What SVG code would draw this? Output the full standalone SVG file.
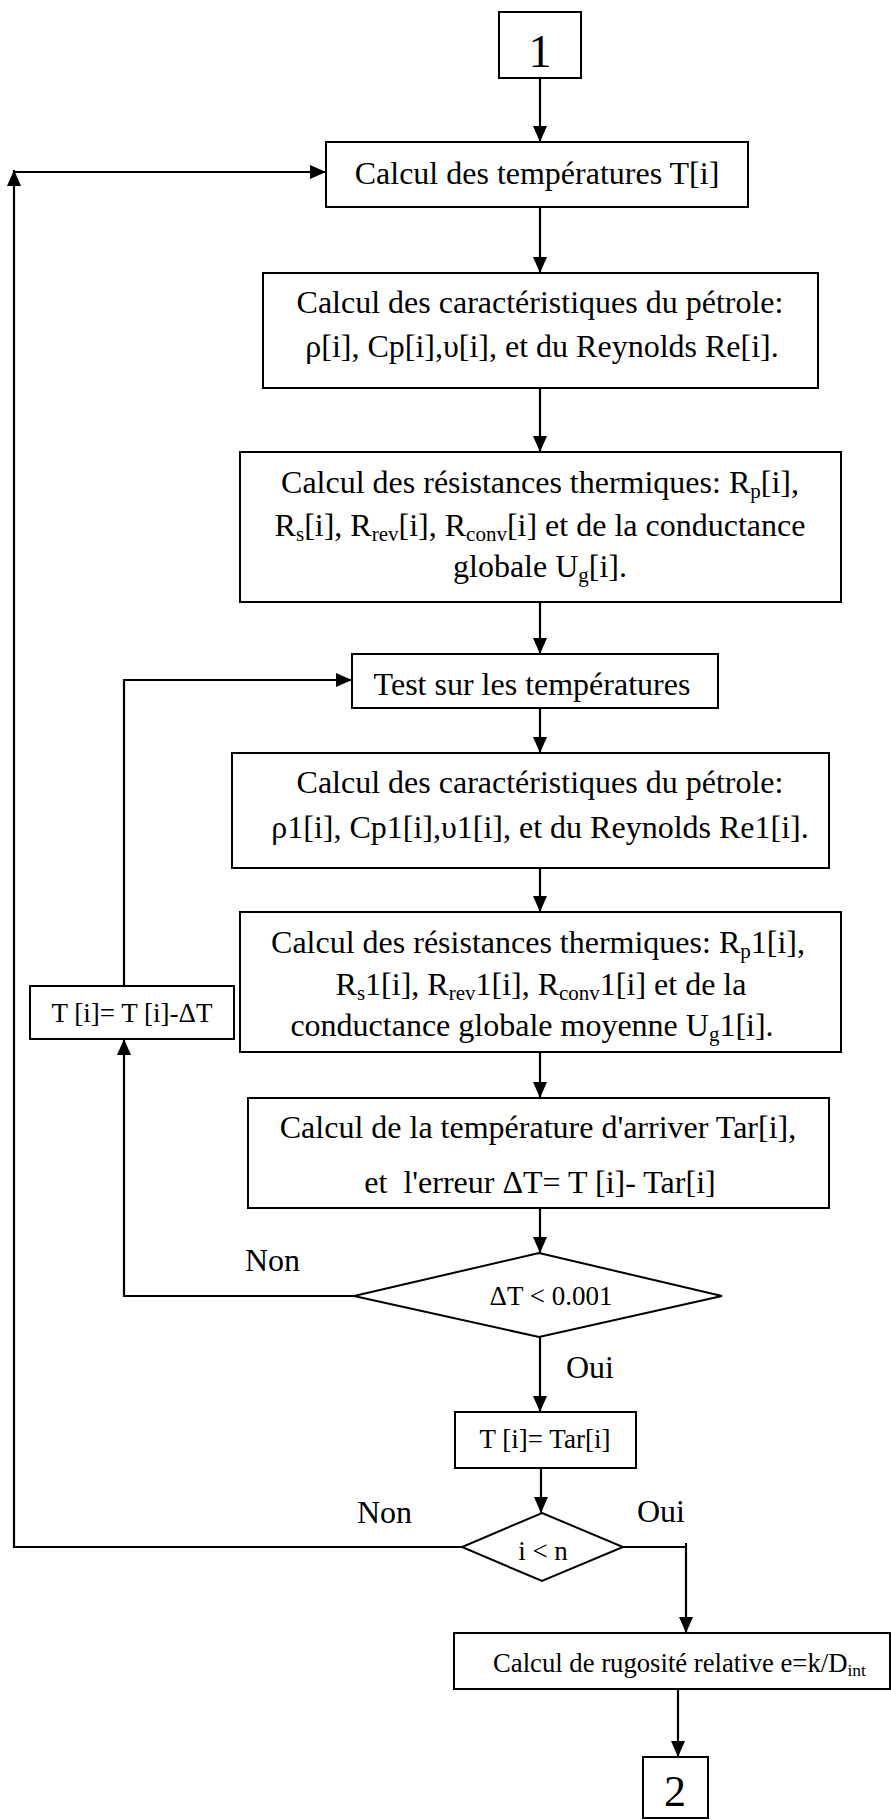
<svg xmlns="http://www.w3.org/2000/svg" width="891" height="1820" viewBox="0 0 891 1820">
  <defs>
    <marker id="arrow" markerUnits="userSpaceOnUse" markerWidth="16" markerHeight="14" refX="16" refY="7" orient="auto">
      <path d="M0,0 L16,7 L0,14 z" fill="#000"/>
    </marker>
    <style>
      .box { fill: #fff; stroke: #000; stroke-width: 2; }
      .conn { fill: none; stroke: #000; stroke-width: 2.2; }
      .arr { marker-end: url(#arrow); }
      text { font-family: "Liberation Serif", "Times New Roman", serif; fill: #000; }
      .t32 { font-size: 32px; }
      .t27 { font-size: 27px; }
      .mid { text-anchor: middle; }
      .sub { font-size: 21px; }
    </style>
  </defs>
  <rect width="891" height="1820" fill="#fff"/>

  <!-- connectors -->
  <g id="connectors">
    <line class="conn arr" x1="540" y1="78" x2="540" y2="142"/>
    <line class="conn arr" x1="540" y1="207" x2="540" y2="273"/>
    <line class="conn arr" x1="540" y1="388" x2="540" y2="452"/>
    <line class="conn arr" x1="540" y1="602" x2="540" y2="654"/>
    <line class="conn arr" x1="540" y1="708" x2="540" y2="753"/>
    <line class="conn arr" x1="540" y1="868" x2="540" y2="912"/>
    <line class="conn arr" x1="540" y1="1052" x2="540" y2="1098"/>
    <line class="conn arr" x1="540" y1="1208" x2="540" y2="1253"/>
    <line class="conn arr" x1="540" y1="1337" x2="540" y2="1412"/>
    <line class="conn arr" x1="541" y1="1468" x2="541" y2="1513"/>
    <!-- inner loop: ΔT test (Non) back to temperature test -->
    <polyline class="conn arr" points="354,1296 124,1296 124,1039"/>
    <polyline class="conn arr" points="124,986 124,680 352,680"/>
    <!-- outer loop: i < n (Non) back to temperature calculation -->
    <polyline class="conn arr" points="462,1547 14,1547 14,170"/>
    <line class="conn arr" x1="14" y1="172" x2="326" y2="172"/>
    <!-- exit (Oui) -->
    <polyline class="conn" points="623,1547 686,1547"/>
    <line class="conn arr" x1="686" y1="1543" x2="686" y2="1633"/>
    <line class="conn arr" x1="678" y1="1689" x2="678" y2="1757"/>
  </g>

  <g id="n-start">
    <rect class="box" x="499" y="12" width="82" height="66"/>
    <text x="540" y="67" class="mid" font-size="46">1</text>
  </g>

  <g id="n-temp">
    <rect class="box" x="326" y="142" width="422" height="65"/>
    <text x="537" y="184" class="t32 mid">Calcul des températures T[i]</text>
  </g>

  <g id="n-carac">
    <rect class="box" x="263" y="273" width="555" height="115"/>
    <text x="540" y="313" class="t32 mid">Calcul des caractéristiques du pétrole:</text>
    <text x="542" y="357" class="t32 mid">ρ[i], Cp[i],υ[i], et du Reynolds Re[i].</text>
  </g>

  <g id="n-resist">
    <rect class="box" x="240" y="452" width="601" height="150"/>
    <text x="540" y="493" class="t32 mid">Calcul des résistances thermiques: R<tspan class="sub" dy="5">p</tspan><tspan dy="-5">[i],</tspan></text>
    <text x="540" y="536" class="t32 mid">R<tspan class="sub" dy="5">s</tspan><tspan dy="-5">[i], R</tspan><tspan class="sub" dy="5">rev</tspan><tspan dy="-5">[i], R</tspan><tspan class="sub" dy="5">conv</tspan><tspan dy="-5">[i] et de la conductance</tspan></text>
    <text x="540" y="577" class="t32 mid">globale U<tspan class="sub" dy="5">g</tspan><tspan dy="-5">[i].</tspan></text>
  </g>

  <g id="n-test">
    <rect class="box" x="352" y="654" width="366" height="54"/>
    <text x="532" y="695" class="t32 mid">Test sur les températures</text>
  </g>

  <g id="n-carac1">
    <rect class="box" x="232" y="753" width="597" height="115"/>
    <text x="540" y="793" class="t32 mid">Calcul des caractéristiques du pétrole:</text>
    <text x="540" y="838" class="t32 mid">ρ1[i], Cp1[i],υ1[i], et du Reynolds Re1[i].</text>
  </g>

  <g id="n-resist1">
    <rect class="box" x="240" y="912" width="601" height="140"/>
    <text x="538" y="953" class="t32 mid">Calcul des résistances thermiques: R<tspan class="sub" dy="5">p</tspan><tspan dy="-5">1[i],</tspan></text>
    <text x="541" y="995" class="t32 mid">R<tspan class="sub" dy="5">s</tspan><tspan dy="-5">1[i], R</tspan><tspan class="sub" dy="5">rev</tspan><tspan dy="-5">1[i], R</tspan><tspan class="sub" dy="5">conv</tspan><tspan dy="-5">1[i] et de la</tspan></text>
    <text x="532" y="1036" class="t32 mid">conductance globale moyenne U<tspan class="sub" dy="5">g</tspan><tspan dy="-5">1[i].</tspan></text>
  </g>

  <g id="n-update">
    <rect class="box" x="30" y="986" width="204" height="53"/>
    <text x="132" y="1022" class="t27 mid">T [i]= T [i]-ΔT</text>
  </g>

  <g id="n-arrivee">
    <rect class="box" x="248" y="1098" width="581" height="110"/>
    <text x="538" y="1138" class="t32 mid">Calcul de la température d'arriver Tar[i],</text>
    <text x="540" y="1193" class="t32 mid" xml:space="preserve">et  l'erreur ΔT= T [i]- Tar[i]</text>
  </g>

  <g id="n-test-erreur">
    <polygon class="box" points="539,1253 722,1296 539,1337 354,1296"/>
    <text x="551" y="1305" class="t27 mid">ΔT &lt; 0.001</text>
    <text x="245" y="1271" class="t32">Non</text>
    <text x="566" y="1378" class="t32">Oui</text>
  </g>

  <g id="n-assign">
    <rect class="box" x="455" y="1412" width="181" height="56"/>
    <text x="545" y="1448" class="t27 mid">T [i]= Tar[i]</text>
  </g>

  <g id="n-boucle">
    <polygon class="box" points="542,1513 623,1547 542,1581 462,1547"/>
    <text x="543" y="1560" class="t27 mid">i &lt; n</text>
    <text x="357" y="1523" class="t32">Non</text>
    <text x="637" y="1522" class="t32">Oui</text>
  </g>

  <g id="n-rugosite">
    <rect class="box" x="454" y="1633" width="436" height="56"/>
    <text x="493" y="1672" font-size="26.7">Calcul de rugosité relative e=k/D<tspan font-size="17.5" dy="4">int</tspan></text>
  </g>

  <g id="n-end">
    <rect class="box" x="643" y="1757" width="65" height="61"/>
    <text x="675" y="1806" class="mid" font-size="44">2</text>
  </g>
</svg>
